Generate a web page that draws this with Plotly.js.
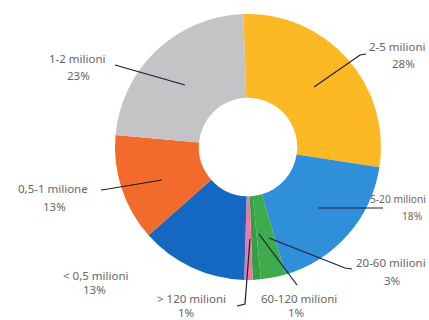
<!DOCTYPE html>
<html>
<head>
<meta charset="utf-8">
<script src="https://cdn.plot.ly/plotly-3.0.1.min.js"></script>
<style>html,body{margin:0;padding:0;background:#fff;}#chart{width:429px;height:320px;}</style>
</head>
<body>
<div id="chart"></div>
<script>
// Data (clockwise from 12 o'clock)
const categories = ["2-5 milioni", "5-20 milioni", "20-60 milioni", "60-120 milioni", "> 120 milioni", "< 0,5 milioni", "0,5-1 milione", "1-2 milioni"];
const shares = [28, 18, 3, 1, 1, 13, 13, 23];
const sliceColors = ["#FDB924", "#2F8FD8", "#3DAA4B", "#34A044", "#E97BA8", "#1468C2", "#F26A2C", "#C4C3C5"];

// Label layout (pixel positions in the 429x320 frame): name anchor, percent centre, leader path, font size
const labelLayout = [
  {name:[428,47], anchor:"right", pct:[403,64], size:11.5, path:[[366,54],[360,55],[314,87]]},
  {name:[428,199], anchor:"right", pct:[412,216], size:10.2, path:[[383,208],[318,208]]},
  {name:[428,262], anchor:"right", pct:[392,280], size:11.5, path:[[352,269],[345,268],[269,238]]},
  {name:[299,298], anchor:"center", pct:[296,312], size:11.5, path:[[297,285],[259,234]]},
  {name:[191,298], anchor:"center", pct:[186,312], size:11.5, path:[[237,306],[245,304],[250,239]]},
  {name:[96,275], anchor:"center", pct:[94,289], size:11.5, path:null},
  {name:[53,188], anchor:"center", pct:[55,206], size:11.5, path:[[101,190],[108,189],[162,180]]},
  {name:[77,58], anchor:"center", pct:[78,75], size:11.5, path:[[115,65],[185,85]]}
];

const W = 429, H = 320;
const px = x => x / W;
const py = y => 1 - y / H;

const annotations = [];
const shapes = [];
categories.forEach((c, i) => {
  const L = labelLayout[i];
  const font = {family: "Noto Sans, sans-serif", size: L.size, color: "#666666"};
  annotations.push({xref:"paper", yref:"paper", x:px(L.name[0]), y:py(L.name[1]), text:c, showarrow:false, xanchor:L.anchor, yanchor:"middle", font:font});
  annotations.push({xref:"paper", yref:"paper", x:px(L.pct[0]), y:py(L.pct[1]), text:shares[i] + "%", showarrow:false, xanchor:"center", yanchor:"middle", font:font});
  if (L.path) {
    const d = L.path.map((p, k) => (k ? "L" : "M") + px(p[0]).toFixed(4) + "," + py(p[1]).toFixed(4)).join(" ");
    shapes.push({type:"path", xref:"paper", yref:"paper", path:d, line:{color:"#1b1d33", width:1.2}});
  }
});

const trace = {
  type: "pie",
  labels: categories,
  values: shares,
  sort: false,
  direction: "clockwise",
  rotation: -2,
  hole: 0.37,
  marker: {colors: sliceColors, line: {width: 0}},
  textinfo: "none",
  hoverinfo: "label+percent",
  showlegend: false,
  domain: {x: [px(248 - 133), px(248 + 133)], y: [py(147 + 133), py(147 - 133)]}
};

Plotly.newPlot("chart", [trace], {
  width: W, height: H,
  margin: {l:0, r:0, t:0, b:0},
  paper_bgcolor: "#ffffff",
  annotations: annotations,
  shapes: shapes
}, {staticPlot: true});
</script>
</body>
</html>
